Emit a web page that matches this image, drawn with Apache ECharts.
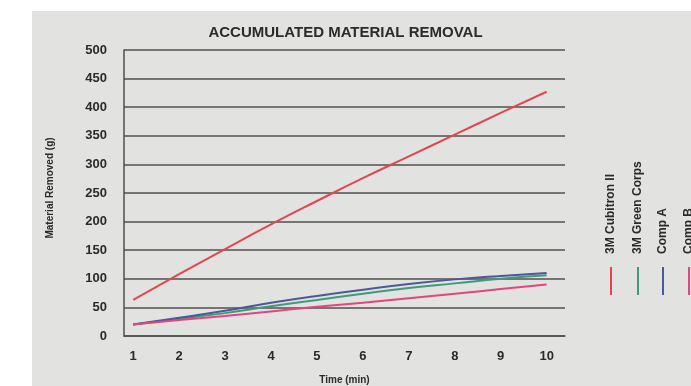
<!DOCTYPE html>
<html>
<head>
<meta charset="utf-8">
<script src="https://cdn.jsdelivr.net/npm/echarts@6/dist/echarts.min.js"></script>
<style>
  html, body { margin: 0; padding: 0; background: #fff; }
  #chart { width: 691px; height: 386px; }
</style>
</head>
<body>
<div id="chart"></div>
<script>
// 数据
const times = [1, 2, 3, 4, 5, 6, 7, 8, 9, 10];
const cubitron = [63, 108, 152, 195, 236, 276, 314, 352, 390, 427];
const greenCorps = [20, 30, 40, 52, 63, 74, 84, 92, 100, 106];
const compA = [20, 32, 44, 58, 70, 81, 91, 99, 105, 110];
const compB = [20, 28, 35, 43, 51, 58, 66, 74, 82, 90];
const legendNames = ['3M Cubitron II', '3M Green Corps', 'Comp A', 'Comp B'];
const colors = ['#e0474f', '#3f9a7c', '#4a5a96', '#e2457f'];

const pairs = arr => times.map((t, i) => [t, arr[i]]);

const myChart = echarts.init(document.getElementById('chart'));

// 右侧竖排图例
const legendX = [611, 638, 663, 689];
const legendGraphics = [];
legendNames.forEach((name, i) => {
  legendGraphics.push({
    type: 'text',
    x: legendX[i],
    y: 254,
    rotation: Math.PI / 2,
    style: {
      text: name,
      fill: '#2a2a2a',
      font: 'bold 12px "Liberation Sans", Arial',
      textAlign: 'left',
      textVerticalAlign: 'middle'
    }
  });
  legendGraphics.push({
    type: 'line',
    shape: { x1: legendX[i], y1: 267, x2: legendX[i], y2: 295 },
    style: { stroke: colors[i], lineWidth: 2 }
  });
});

const option = {
  backgroundColor: '#fff',
  animation: false,
  title: {
    text: 'ACCUMULATED MATERIAL REMOVAL',
    left: 'center',
    top: 20,
    textStyle: {
      fontFamily: '"Liberation Sans", Arial',
      fontWeight: 'bold',
      fontSize: 15,
      color: '#2b2b2b'
    }
  },
  grid: { left: 124, right: 126, top: 50, bottom: 50, outerBoundsMode: 'none' },
  graphic: [
    {
      type: 'rect',
      z: -10,
      shape: { x: 32, y: 11, width: 700, height: 400 },
      style: { fill: '#e2e2e0' }
    },
    {
      type: 'text',
      x: 50,
      y: 188,
      rotation: Math.PI / 2,
      style: {
        text: 'Material Removed (g)',
        fill: '#2a2a2a',
        font: 'bold 10px "Liberation Sans", Arial',
        textAlign: 'center',
        textVerticalAlign: 'middle'
      }
    },
    ...legendGraphics
  ],
  xAxis: {
    type: 'value',
    min: 0.8,
    max: 10.4,
    name: 'Time (min)',
    nameLocation: 'middle',
    nameGap: 39,
    nameTextStyle: {
      color: '#2a2a2a',
      fontSize: 10,
      fontWeight: 'bold',
      fontFamily: '"Liberation Sans", Arial'
    },
    axisLine: { show: true, lineStyle: { color: '#505050', width: 1.5 } },
    axisTick: { show: false },
    splitLine: { show: false },
    axisLabel: {
      customValues: times,
      color: '#2a2a2a',
      fontSize: 13,
      fontWeight: 'bold',
      margin: 14,
      fontFamily: '"Liberation Sans", Arial'
    }
  },
  yAxis: {
    type: 'value',
    min: 0,
    max: 500,
    interval: 50,
    axisLine: { show: true, lineStyle: { color: '#505050', width: 1.5 } },
    axisTick: { show: false },
    axisLabel: {
      color: '#2a2a2a',
      fontSize: 13,
      fontWeight: 'bold',
      margin: 17,
      fontFamily: '"Liberation Sans", Arial'
    },
    splitLine: { show: true, lineStyle: { color: '#505050', width: 1.5 } }
  },
  series: [
    { name: legendNames[0], type: 'line', smooth: true, symbol: 'none', data: pairs(cubitron), lineStyle: { color: colors[0], width: 2 } },
    { name: legendNames[1], type: 'line', smooth: true, symbol: 'none', data: pairs(greenCorps), lineStyle: { color: colors[1], width: 2 } },
    { name: legendNames[2], type: 'line', smooth: true, symbol: 'none', data: pairs(compA), lineStyle: { color: colors[2], width: 2 } },
    { name: legendNames[3], type: 'line', smooth: true, symbol: 'none', data: pairs(compB), lineStyle: { color: colors[3], width: 2 } }
  ]
};

myChart.setOption(option);
</script>
</body>
</html>
